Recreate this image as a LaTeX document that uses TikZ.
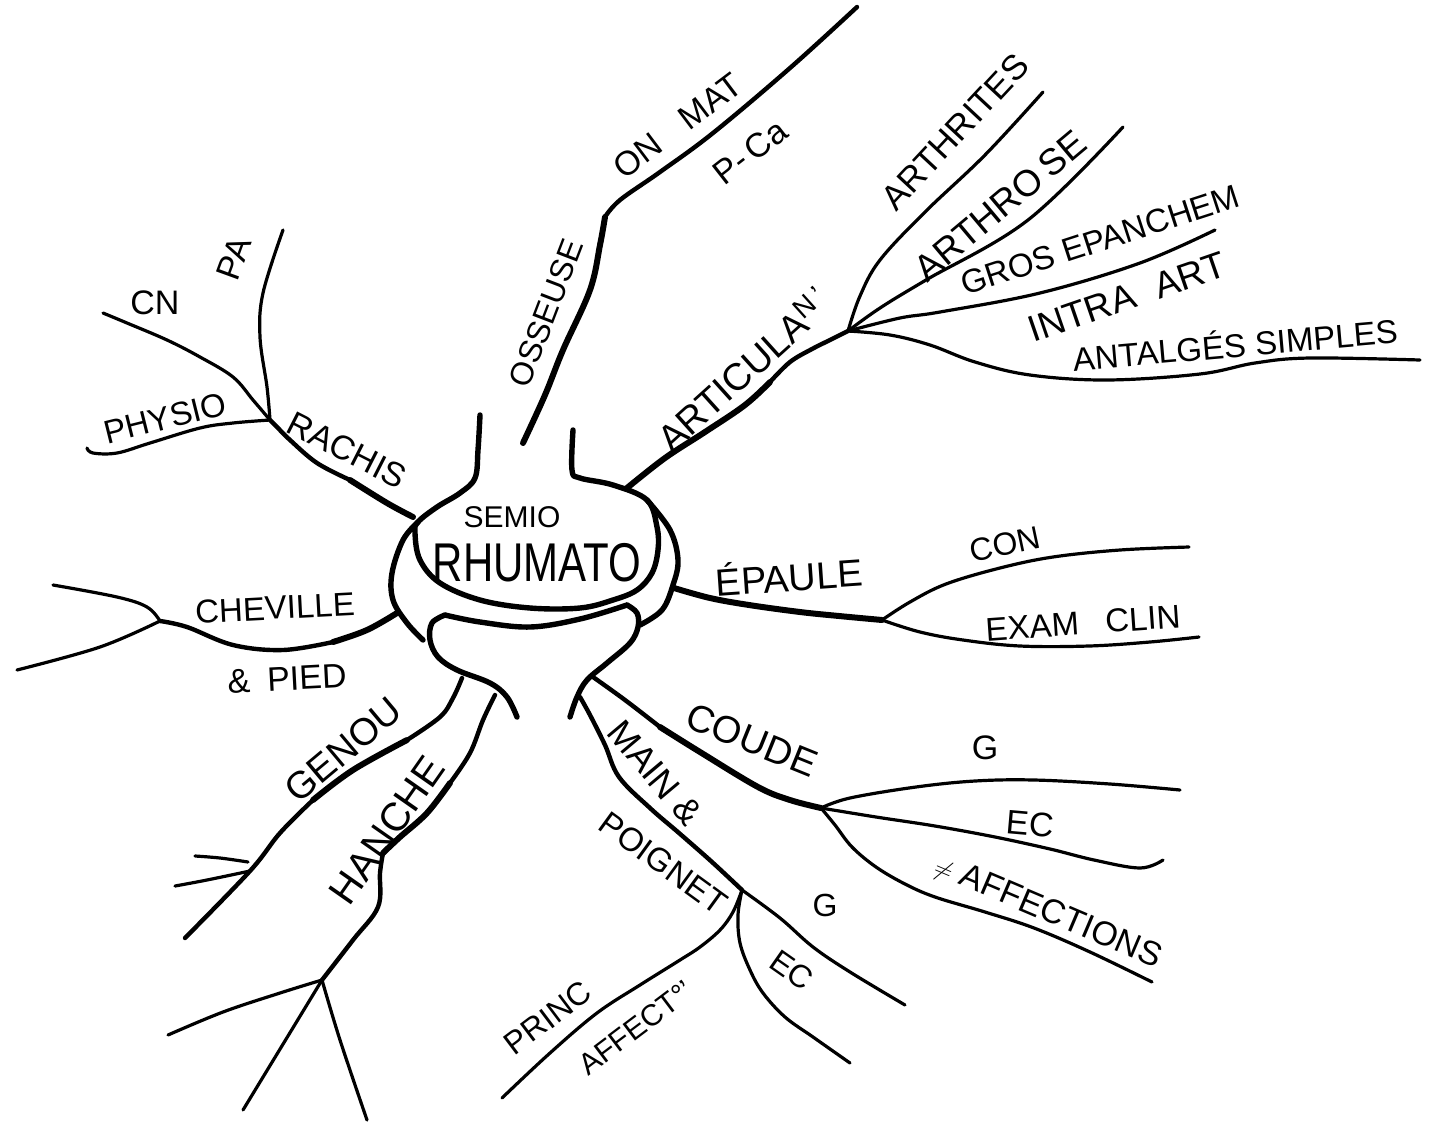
\documentclass[tikz,border=0pt]{standalone}
\usepackage{fontspec}
\setmainfont{Liberation Sans}
\newcommand{\fsz}[1]{\fontsize{#1}{#1}\selectfont}
\begin{document}
\begin{tikzpicture}[x=1pt,y=-1pt,
  ln/.style={line width=3.2pt, line cap=round, line join=round},
  mn/.style={line width=4.4pt, line cap=round, line join=round},
  thk/.style={line width=6pt, line cap=round, line join=round},
  ctr/.style={line width=5.4pt, line cap=round, line join=round},
  lab/.style={inner sep=0pt, anchor=center},
  sm/.style={smooth, tension=0.6}]
\fill[white] (0,0) rectangle (1432,1133);
\useasboundingbox (0,0) rectangle (1432,1133);

% ---------- centre ----------
\coordinate (stemL) at (480,415);
\coordinate (stemR) at (573,430);
\coordinate (shL) at (418,522);
\coordinate (shR) at (647,500);
\draw[ctr] plot[sm] coordinates {(stemL) (478,450) (475,478) (460,493) (437,507) (shL) (415,533) (420,560) (440,583) (480,600) (530,608) (580,608) (613,600) (637,590) (652,573) (658,550) (657,527) (shR) (613,485) (580,478) (572,470) (stemR)};
\draw[ctr] plot[sm] coordinates {(shL) (403,540) (392,573) (393,600) (407,623) (423,640)};
\draw[ctr] plot[sm] coordinates {(shR) (670,530) (678,560) (673,585) (662,610) (640,625)};
\coordinate (cupL) at (445,615);
\coordinate (cupR) at (627,605);
\draw[ctr] plot[sm] coordinates {(cupL) (480,622) (530,627) (580,619) (cupR)};
\draw[ctr] plot[sm] coordinates {(517,717) (507,697) (490,683) (457,670) (438,657) (430,640) (432,623) (cupL)};
\draw[ctr] plot[sm] coordinates {(cupR) (637,613) (638,627) (630,643) (607,663) (587,680) (577,697) (570,717)};

\node[lab, font=\fsz{30}] (semio) at (512,517) {SEMIO};
\node[lab, font=\fsz{42}] (rhum) at (537,563) {\scalebox{1}[1.3]{RHUMATO}};

% ---------- OSSEUSE ----------
\coordinate (ossA) at (523,443);
\coordinate (ossK) at (605,217);
\coordinate (ossE) at (857,7);
\draw[thk] plot[sm] coordinates {(ossA) (545,395) (563,350) (590,290) (600,245) (ossK)};
\draw[mn] plot[sm] coordinates {(ossK) (620,200) (660,172) (713,133) (790,68) (ossE)};
\node[lab, font=\fsz{32}, rotate=69] (oss) at (546,313) {OSSEUSE};
\node[lab, font=\fsz{34}, rotate=37] (onmat) at (678,126) {ON\hspace{0.9em}MAT};
\node[lab, font=\fsz{34}, rotate=38] (pca) at (750,152) {P-\,Ca};

% ---------- ARTICULAIRE ----------
\coordinate (artA) at (627,488);
\coordinate (artH) at (848,331);
\draw[thk] plot[sm] coordinates {(artA) (665,458) (705,432) (745,405) (770,382)};
\draw[mn] plot[sm] coordinates {(770,382) (790,362) (812,349) (830,340) (artH)};
\node[lab, font=\fsz{38}, rotate=42] (artic) at (743,370) {ARTICULA\raisebox{0.3em}{\fsz{28}N\,'}};
\coordinate (e1) at (1043,92);
\coordinate (e2) at (1123,127);
\coordinate (e3) at (1215,230);
\coordinate (e4) at (1420,360);
\draw[ln] plot[sm] coordinates {(artH) (860,296) (880,260) (925,212) (985,155) (e1)};
\draw[ln] plot[sm] coordinates {(artH) (880,308) (926,280) (1028,220) (e2)};
\draw[ln] plot[sm] coordinates {(artH) (900,318) (940,312) (1040,293) (1140,263) (e3)};
\draw[ln] plot[sm] coordinates {(artH) (890,335) (930,345) (975,362) (1030,375) (1107,380) (1200,374) (1255,363) (1310,358) (e4)};
\node[lab, font=\fsz{35}, rotate=47] (arthr) at (955,132) {ARTHRITES};
\node[lab, font=\fsz{37}, rotate=40] (arthro) at (1000,206) {ARTHRO\,SE};
\node[lab, font=\fsz{33}, rotate=18] (gros) at (1100,240) {GROS EPANCHEM};
\node[lab, font=\fsz{37}, rotate=19] (intra) at (1127,297) {INTRA\hspace{0.6em}ART};
\node[lab, font=\fsz{33}, rotate=5] (antal) at (1235,343) {ANTALGÉS SIMPLES};

% ---------- EPAULE ----------
\coordinate (epA) at (674,588);
\coordinate (epH) at (882,620);
\draw[thk] plot[sm] coordinates {(epA) (710,598) (749,605) (800,612) (839,616) (epH)};
\coordinate (e5) at (1189,547);
\coordinate (e6) at (1199,637);
\draw[ln] plot[sm] coordinates {(epH) (910,602) (946,584) (1000,568) (1053,557) (1120,550) (e5)};
\draw[ln] plot[sm] coordinates {(epH) (920,632) (963,640) (1020,646) (1089,646) (1150,642) (e6)};
\node[lab, font=\fsz{38}, rotate=4] (epa) at (789,575) {ÉPAULE};
\node[lab, font=\fsz{32}, rotate=12] (con) at (1005,544) {CON};
\node[lab, font=\fsz{33}, rotate=4] (exam) at (1083,623) {EXAM\hspace{0.8em}CLIN};

% ---------- COUDE ----------
\coordinate (coA) at (593,677);
\coordinate (coH) at (821,808);
\draw[mn] plot[sm] coordinates {(coA) (625,700) (660,727)};
\draw[thk] plot[sm] coordinates {(660,727) (700,752) (758,787) (790,800) (coH)};
\coordinate (e7) at (1180,790);
\coordinate (e8) at (1163,860);
\coordinate (e9) at (1152,982);
\draw[ln] plot[sm] coordinates {(coH) (850,798) (916,787) (975,781) (1034,780) (1110,784) (e7)};
\draw[ln] plot[sm] coordinates {(coH) (876,817) (935,826) (995,837) (1050,849) (1094,860) (1140,868) (e8)};
\draw[ln] plot[sm] coordinates {(coH) (835,825) (852,847) (876,867) (905,884) (935,897) (985,912) (1034,928) (1090,952) (e9)};
\node[lab, font=\fsz{38}, rotate=-22] (coude) at (752,740) {COUDE};
\node[lab, font=\fsz{34}] (g1) at (985,748) {G};
\node[lab, font=\fsz{34}, rotate=-5] (ec1) at (1030,824) {EC};
\node[lab, font=\fsz{34}, rotate=-23] (aff) at (1048,912) {$\neq$\ AFFECTIONS};

% ---------- MAIN & POIGNET ----------
\coordinate (maA) at (580,697);
\coordinate (maH) at (742,890);
\draw[mn] plot[sm] coordinates {(maA) (590,715) (605,745) (619,777) (650,808) (679,833) (712,862) (maH)};
\coordinate (e10) at (905,1005);
\coordinate (e11) at (850,1063);
\coordinate (e12) at (502,1098);
\draw[ln] plot[sm] coordinates {(maH) (780,918) (813,947) (850,972) (e10)};
\draw[ln] plot[sm] coordinates {(maH) (738,915) (740,943) (750,970) (763,993) (785,1017) (813,1037) (e11)};
\draw[ln] plot[sm] coordinates {(maH) (733,912) (720,930) (700,947) (680,960) (640,985) (597,1013) (550,1053) (e12)};
\node[lab, font=\fsz{36}, rotate=-50] (main) at (655,773) {MAIN \&};
\node[lab, font=\fsz{33}, rotate=-36] (poig) at (663,863) {POIGNET};
\node[lab, font=\fsz{32}] (g2) at (825,905) {G};
\node[lab, font=\fsz{32}, rotate=-35] (ec2) at (792,970) {EC};
\node[lab, font=\fsz{32}, rotate=37] (princ) at (548,1018) {PRINC};
\node[lab, font=\fsz{30}, rotate=37] (affect) at (636,1028) {AFFECT°'};

% ---------- GENOU ----------
\coordinate (geA) at (462,678);
\coordinate (geH) at (250,871);
\draw[mn] plot[sm] coordinates {(geA) (453,698) (440,717) (407,740)};
\draw[thk] plot[sm] coordinates {(407,740) (353,770) (313,800)};
\draw[mn] plot[sm] coordinates {(313,800) (280,833) (geH) (185,938)};
\coordinate (e13) at (175,886);
\draw[ln] plot[sm] coordinates {(geH) (207,880) (e13)};
\coordinate (s1) at (195,856);
\coordinate (s2) at (248,862);
\draw[ln] plot[sm] coordinates {(s1) (220,858) (s2)};
\node[lab, font=\fsz{38}, rotate=40] (genou) at (343,750) {GENOU};

% ---------- HANCHE ----------
\coordinate (haA) at (495,695);
\coordinate (haH) at (322,980);
\draw[mn] plot[sm] coordinates {(haA) (483,720) (470,753) (450,783)};
\draw[thk] plot[sm] coordinates {(450,783) (427,813) (400,837) (383,853)};
\draw[mn] plot[sm] coordinates {(383,853) (380,873) (378,907) (353,940) (haH)};
\coordinate (e14) at (168,1035);
\coordinate (e15) at (243,1110);
\coordinate (e16) at (367,1120);
\draw[ln] plot[sm] coordinates {(haH) (280,993) (223,1012) (e14)};
\draw[ln] (haH) -- (e15);
\draw[ln] plot[sm] coordinates {(haH) (340,1040) (e16)};
\node[lab, font=\fsz{40}, rotate=55] (hanche) at (387,830) {HANCHE};

% ---------- CHEVILLE & PIED ----------
\coordinate (chA) at (397,613);
\coordinate (chH) at (160,621);
\draw[thk] plot[sm] coordinates {(chA) (367,630) (333,642)};
\draw[mn] plot[sm] coordinates {(333,642) (283,650) (233,645) (187,627) (chH)};
\coordinate (e17) at (53,585);
\coordinate (e18) at (17,670);
\draw[ln] plot[sm] coordinates {(chH) (147,607) (117,597) (e17)};
\draw[ln] plot[sm] coordinates {(chH) (100,647) (e18)};
\node[lab, font=\fsz{33}, rotate=3] (chev) at (275,608) {CHEVILLE};
\node[lab, font=\fsz{34}, rotate=3] (pied) at (287,679) {\&\hspace{0.5em}PIED};

% ---------- RACHIS ----------
\coordinate (raA) at (413,517);
\coordinate (raH) at (270,420);
\draw[thk] plot[sm] coordinates {(raA) (387,503) (350,480)};
\draw[mn] plot[sm] coordinates {(350,480) (317,463) (290,440) (277,427) (raH)};
\coordinate (e19) at (283,230);
\coordinate (e20) at (103,313);
\coordinate (e21) at (87,448);
\draw[ln] plot[sm] coordinates {(raH) (267,387) (260,337) (263,293) (e19)};
\draw[ln] plot[sm] coordinates {(raH) (253,400) (233,377) (200,357) (167,340) (127,323) (e20)};
\draw[ln] plot[sm] coordinates {(raH) (233,423) (200,428) (150,443) (117,453) (93,453) (e21)};
\node[lab, font=\fsz{34}, rotate=-27] (rachis) at (347,450) {RACHIS};
\node[lab, font=\fsz{33}, rotate=14] (physio) at (165,418) {PHYSIO};
\node[lab, font=\fsz{34}] (cn) at (155,303) {CN};
\node[lab, font=\fsz{34}, rotate=70] (pa) at (234,258) {PA};
\end{tikzpicture}
\end{document}
